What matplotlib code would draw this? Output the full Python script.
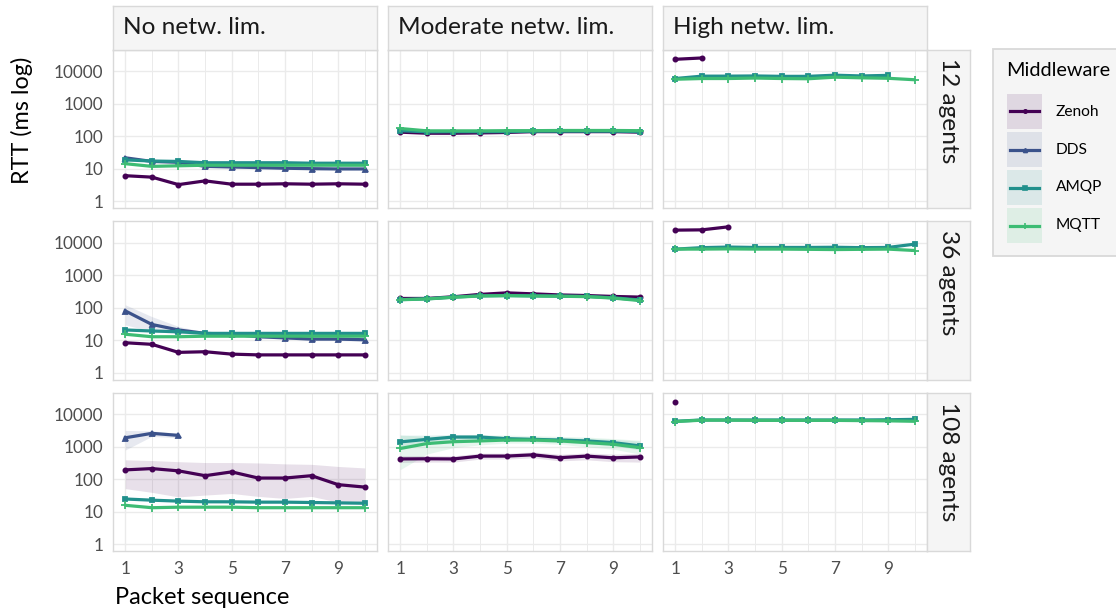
import numpy as np
import matplotlib
matplotlib.use("Agg")
import matplotlib.pyplot as plt
from matplotlib.patches import Rectangle
from matplotlib.lines import Line2D

plt.rcParams['font.family'] = ['Lato', 'DejaVu Sans']

# ---------------- data ----------------
X = [1, 2, 3, 4, 5, 6, 7, 8, 9, 10]
NETWORK = ["No netw. lim.", "Moderate netw. lim.", "High netw. lim."]
AGENTS = ["12 agents", "36 agents", "108 agents"]
MIDDLEWARE = ["Zenoh", "DDS", "AMQP", "MQTT"]
NAN = float("nan")

# No network limitation
ZENOH_NO_12 = [6.2, 5.6, 3.3, 4.3, 3.4, 3.4, 3.5, 3.4, 3.5, 3.4]
DDS_NO_12 = [22, 17, 16, 12, 11.5, 11, 10.5, 10.2, 10, 10]
AMQP_NO_12 = [19, 17.5, 17, 15.5, 15.5, 15.5, 15.5, 15, 15, 15]
MQTT_NO_12 = [14.5, 12, 12.5, 13, 13, 13, 13, 13, 13, 13]

ZENOH_NO_36 = [8.5, 7.6, 4.3, 4.5, 3.8, 3.6, 3.6, 3.6, 3.6, 3.6]
DDS_NO_36 = [81, 31, 21, 16.5, 15.5, 13, 12, 11, 11, 10.5]
DDS_NO_36_LO = [30, 19, 16, 15, 14.5, 12, 11, 10, 10, 9.5]
DDS_NO_36_HI = [125, 54, 27, 18, 16.5, 14, 13, 12, 12, 11.5]
AMQP_NO_36 = [21, 19.5, 18.5, 16.5, 16.5, 16.5, 16.5, 16.5, 16.5, 16.5]
MQTT_NO_36 = [15.5, 13, 13, 13.5, 13.5, 13.5, 13.5, 13.5, 13.5, 13.5]

ZENOH_NO_108 = [196, 215, 183, 130, 170, 110, 110, 130, 69, 58]
ZENOH_NO_108_LO = [52, 40, 29, 33, 37, 30, 26, 30, 20, 20]
ZENOH_NO_108_HI = [400, 380, 350, 330, 330, 320, 300, 290, 250, 225]
DDS_NO_108 = [1900, 2600, 2250, NAN, NAN, NAN, NAN, NAN, NAN, NAN]
DDS_NO_108_LO = [800, 2100, 1900, NAN, NAN, NAN, NAN, NAN, NAN, NAN]
DDS_NO_108_HI = [3200, 3100, 2600, NAN, NAN, NAN, NAN, NAN, NAN, NAN]
AMQP_NO_108 = [25, 23, 21.5, 20.5, 20.5, 20, 20, 19.5, 19, 18.5]
MQTT_NO_108 = [16, 13.5, 14, 14, 14, 13.5, 13.5, 13.5, 13.5, 13.5]

# Moderate network limitation
ZENOH_MOD_12 = [135, 125, 125, 128, 132, 140, 140, 140, 140, 135]
AMQP_MOD_12 = [150, 138, 140, 140, 140, 145, 145, 145, 145, 140]
MQTT_MOD_12 = [175, 148, 148, 148, 150, 150, 152, 152, 152, 150]

ZENOH_MOD_36 = [195, 195, 220, 260, 290, 270, 250, 240, 225, 215]
AMQP_MOD_36 = [180, 190, 215, 235, 240, 235, 230, 225, 205, 175]
MQTT_MOD_36 = [178, 188, 212, 232, 238, 232, 228, 222, 200, 168]

ZENOH_MOD_108 = [425, 430, 425, 520, 520, 570, 465, 520, 460, 490]
ZENOH_MOD_108_LO = [330, 340, 340, 420, 420, 460, 370, 400, 350, 340]
ZENOH_MOD_108_HI = [540, 540, 530, 640, 640, 700, 590, 650, 600, 620]
AMQP_MOD_108 = [1420, 1700, 2000, 2000, 1780, 1700, 1620, 1520, 1350, 1070]
AMQP_MOD_108_LO = [900, 1300, 1700, 1700, 1500, 1450, 1350, 1250, 1100, 800]
AMQP_MOD_108_HI = [2300, 2300, 2400, 2400, 2100, 2000, 1950, 1850, 1700, 1500]
MQTT_MOD_108 = [890, 1260, 1440, 1520, 1620, 1620, 1520, 1350, 1200, 950]
MQTT_MOD_108_LO = [200, 600, 950, 1150, 1300, 1300, 1200, 1000, 850, 600]
MQTT_MOD_108_HI = [2300, 2100, 2200, 2300, 2300, 2200, 2100, 2000, 1800, 1600]

# High network limitation
ZENOH_HIGH_12 = [23400, 25700, NAN, NAN, NAN, NAN, NAN, NAN, NAN, NAN]
AMQP_HIGH_12 = [6000, 7100, 7100, 7200, 7000, 7000, 7600, 7200, 7500, NAN]
MQTT_HIGH_12 = [5700, 6000, 6000, 6200, 6000, 5900, 6600, 6300, 6100, 5500]

ZENOH_HIGH_36 = [24500, 25000, 31000, NAN, NAN, NAN, NAN, NAN, NAN, NAN]
AMQP_HIGH_36 = [6400, 7100, 7400, 7200, 7200, 7200, 7300, 7100, 7200, 9100]
MQTT_HIGH_36 = [6400, 6400, 6500, 6400, 6400, 6300, 6200, 6300, 6400, 5800]

ZENOH_HIGH_108 = [24300, NAN, NAN, NAN, NAN, NAN, NAN, NAN, NAN, NAN]
AMQP_HIGH_108 = [6100, 6700, 6700, 6700, 6700, 6700, 6700, 6700, 6800, 7000]
MQTT_HIGH_108 = [6000, 6600, 6600, 6500, 6500, 6500, 6500, 6400, 6300, 6100]

Y_TICKS = [1, 10, 100, 1000, 10000]
X_TICKS = [1, 3, 5, 7, 9]

# panel (row, col) -> {middleware: (values, lo, hi)}
PANELS = {
    (0, 0): {"Zenoh": (ZENOH_NO_12, None, None), "DDS": (DDS_NO_12, None, None),
             "AMQP": (AMQP_NO_12, None, None), "MQTT": (MQTT_NO_12, None, None)},
    (1, 0): {"Zenoh": (ZENOH_NO_36, None, None), "DDS": (DDS_NO_36, DDS_NO_36_LO, DDS_NO_36_HI),
             "AMQP": (AMQP_NO_36, None, None), "MQTT": (MQTT_NO_36, None, None)},
    (2, 0): {"Zenoh": (ZENOH_NO_108, ZENOH_NO_108_LO, ZENOH_NO_108_HI),
             "DDS": (DDS_NO_108, DDS_NO_108_LO, DDS_NO_108_HI),
             "AMQP": (AMQP_NO_108, None, None), "MQTT": (MQTT_NO_108, None, None)},
    (0, 1): {"Zenoh": (ZENOH_MOD_12, None, None), "AMQP": (AMQP_MOD_12, None, None),
             "MQTT": (MQTT_MOD_12, None, None)},
    (1, 1): {"Zenoh": (ZENOH_MOD_36, None, None), "AMQP": (AMQP_MOD_36, None, None),
             "MQTT": (MQTT_MOD_36, None, None)},
    (2, 1): {"Zenoh": (ZENOH_MOD_108, ZENOH_MOD_108_LO, ZENOH_MOD_108_HI),
             "AMQP": (AMQP_MOD_108, AMQP_MOD_108_LO, AMQP_MOD_108_HI),
             "MQTT": (MQTT_MOD_108, MQTT_MOD_108_LO, MQTT_MOD_108_HI)},
    (0, 2): {"Zenoh": (ZENOH_HIGH_12, None, None), "AMQP": (AMQP_HIGH_12, None, None),
             "MQTT": (MQTT_HIGH_12, None, None)},
    (1, 2): {"Zenoh": (ZENOH_HIGH_36, None, None), "AMQP": (AMQP_HIGH_36, None, None),
             "MQTT": (MQTT_HIGH_36, None, None)},
    (2, 2): {"Zenoh": (ZENOH_HIGH_108, None, None), "AMQP": (AMQP_HIGH_108, None, None),
             "MQTT": (MQTT_HIGH_108, None, None)},
}

# ---------------- style ----------------
COLORS = {"Zenoh": "#440154", "DDS": "#3B528B", "AMQP": "#21908C", "MQTT": "#3DBC74"}
MARKERS = {"Zenoh": "o", "DDS": "^", "AMQP": "s", "MQTT": "+"}
MSIZE = {"Zenoh": 3.0, "DDS": 3.6, "AMQP": 3.2, "MQTT": 5.5}
BORDER = "#D9D9D9"
GRID = "#EBEBEB"
STRIP_BG = "#F5F5F5"

W, H = 1116, 612
fig = plt.figure(figsize=(W / 100, H / 100), dpi=100)


def fr(x0, y0, w, h):
    return [x0 / W, 1 - (y0 + h) / H, w / W, h / H]


COL_LEFT = [113.3, 388.3, 663.3]
COL_W = 263.4
ROW_TOP = [49.5, 221.0, 392.5]
ROW_H = 158.5
STRIP_TOP_Y = 6.0
STRIP_RIGHT_X = 926.7
STRIP_W = 43.0

for (r, c), series in PANELS.items():
    ax = fig.add_axes(fr(COL_LEFT[c], ROW_TOP[r], COL_W, ROW_H))
    ax.set_yscale("log")
    ax.set_ylim(10 ** -0.2, 10 ** 4.67)
    ax.set_xlim(0.55, 10.45)
    ax.set_xticks(X_TICKS)
    ax.set_xticks([2, 4, 6, 8, 10], minor=True)
    ax.set_yticks(Y_TICKS)
    ax.yaxis.set_minor_locator(matplotlib.ticker.NullLocator())
    ax.grid(True, which="major", color=GRID, lw=1.0, zorder=0)
    ax.grid(True, which="minor", axis="x", color=GRID, lw=0.7, zorder=0)
    ax.set_axisbelow(True)
    for s in ax.spines.values():
        s.set_color(BORDER)
        s.set_linewidth(1.0)
    ax.tick_params(which="both", length=0, labelsize=12.3, labelcolor="#4D4D4D", pad=7)
    if c == 0:
        ax.set_yticklabels([str(v) for v in Y_TICKS])
    else:
        ax.set_yticklabels([])
    if r == 2:
        ax.set_xticklabels([str(v) for v in X_TICKS])
    else:
        ax.set_xticklabels([])

    for name in MIDDLEWARE:
        if name not in series:
            continue
        vals, lo, hi = series[name]
        if lo is not None:
            ax.fill_between(X, lo, hi, color=COLORS[name], alpha=0.12, lw=0, zorder=1)
    for name in MIDDLEWARE:
        if name not in series:
            continue
        vals, lo, hi = series[name]
        ax.plot(X, vals, color=COLORS[name], lw=2.3, marker=MARKERS[name],
                ms=MSIZE[name], mew=1.3, zorder=3, solid_capstyle="butt")

# top strips
for c, label in enumerate(NETWORK):
    sax = fig.add_axes(fr(COL_LEFT[c], STRIP_TOP_Y, COL_W, ROW_TOP[0] - STRIP_TOP_Y))
    sax.set_facecolor(STRIP_BG)
    sax.set_xticks([]); sax.set_yticks([])
    for s in sax.spines.values():
        s.set_color(BORDER); s.set_linewidth(1.0)
    sax.text(9.5 / COL_W, 0.5, label, transform=sax.transAxes, ha="left", va="center",
             fontsize=17.6, color="#1A1A1A")

# right strips
for r, label in enumerate(AGENTS):
    sax = fig.add_axes(fr(STRIP_RIGHT_X, ROW_TOP[r], STRIP_W, ROW_H))
    sax.set_facecolor(STRIP_BG)
    sax.set_xticks([]); sax.set_yticks([])
    for s in sax.spines.values():
        s.set_color(BORDER); s.set_linewidth(1.0)
    sax.text(0.5, 1 - 9 / ROW_H, label, transform=sax.transAxes, ha="center", va="top",
             rotation=270, fontsize=17.6, color="#1A1A1A")

# axis titles
fig.text(115 / W, 1 - 597 / H, "Packet sequence", ha="left", va="center", fontsize=17)
fig.text(22 / W, 1 - 120 / H, "RTT (ms log)", ha="center", va="center", rotation=90, fontsize=16.8)

# legend
lx0, ly0, lx1, ly1 = 993.3, 49.3, 1130, 256
fig.patches.append(Rectangle((lx0 / W, 1 - ly1 / H), (lx1 - lx0) / W, (ly1 - ly0) / H,
                             transform=fig.transFigure, facecolor=STRIP_BG,
                             edgecolor=BORDER, lw=1.3, clip_on=False, zorder=-5))
fig.text(1006.5 / W, 1 - 70 / H, "Middleware", ha="left", va="center", fontsize=14.3)
key_tops = [94.3, 132.3, 170.3, 208.3]
for name, kt in zip(MIDDLEWARE, key_tops):
    kax = fig.add_axes(fr(1007.3, kt, 34.4, 34.4), zorder=5)
    kax.set_xlim(0, 1); kax.set_ylim(0, 1)
    kax.axis("off")
    kax.patch.set_visible(False)
    kax.add_patch(Rectangle((0, 0), 1, 1, facecolor=COLORS[name], alpha=0.12, lw=0))
    kax.add_line(Line2D([0.08, 0.92], [0.5, 0.5], color=COLORS[name], lw=2.3))
    kax.plot([0.5], [0.5], marker=MARKERS[name], color=COLORS[name],
             ms=MSIZE[name] * 0.8, mew=1.2)
    fig.text(1055.7 / W, 1 - (kt + 17.2) / H, name, ha="left", va="center", fontsize=11.2)

fig.savefig("out.png", dpi=100)
